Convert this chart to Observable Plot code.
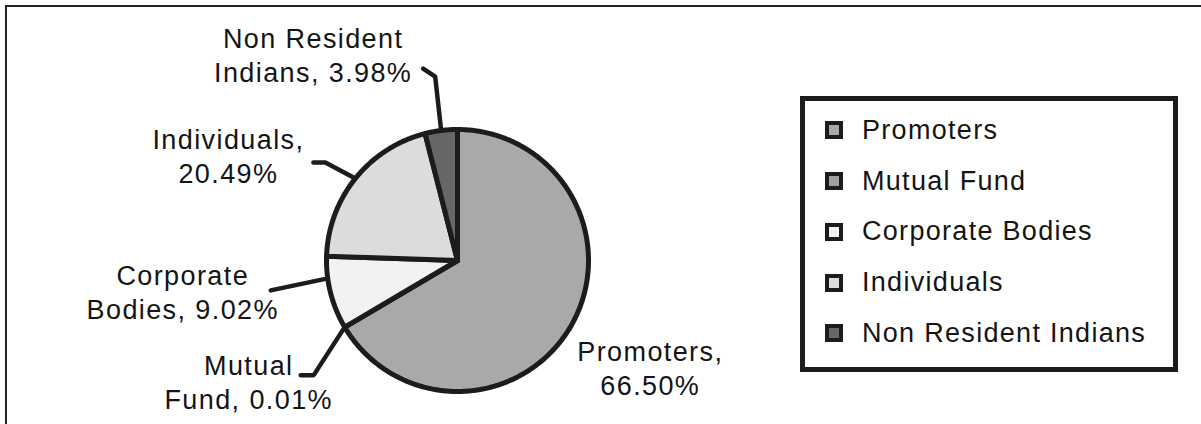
<!DOCTYPE html>
<html>
<head>
<meta charset="utf-8">
<script src="https://cdn.jsdelivr.net/npm/d3@7"></script>
<script src="https://cdn.jsdelivr.net/npm/@observablehq/plot@0.6"></script>
<style>
  html, body { margin: 0; padding: 0; background: #fff; }
  #wrap { position: relative; width: 1201px; height: 424px; overflow: hidden; background: #fff;
          font-family: "Liberation Sans", Arial, sans-serif; color: #141414; }
  #chart { position: absolute; left: 0; top: 0; }
  #frame { position: absolute; left: 5px; top: 5px; right: -10px; bottom: -10px;
           border-left: 2px solid #222; border-top: 2px solid #222; pointer-events: none; }
  #legend { position: absolute; left: 800px; top: 96px; width: 378px; height: 276px;
            box-sizing: border-box; border: 5px solid #1c1c1c; background: #fff;
            padding-top: 4px; padding-left: 20px; }
  .row { display: flex; align-items: center; height: 50.75px; font-size: 27px; letter-spacing: 1.3px; }
  .sw { width: 18px; height: 18px; box-sizing: border-box; border: 4px solid #1c1c1c; margin-right: 19px; flex: none; }
</style>
</head>
<body>
<div id="wrap">
  <div id="chart"></div>
  <div id="legend"></div>
  <div id="frame"></div>
</div>
<script>
// ---- data ----
const categories = ["Promoters", "Mutual Fund", "Corporate Bodies", "Individuals", "Non Resident Indians"];
const shares = [66.50, 0.01, 9.02, 20.49, 3.98];
const colors = ["#a9a9a9", "#a0a0a0", "#f2f2f2", "#dcdcdc", "#676767"];
const labelHead = ["Promoters,", "Mutual", "Corporate", "Individuals,", "Non Resident"];
const labelTail = ["", "Fund, ", "Bodies, ", "", "Indians, "];

// ---- layout (not data) ----
const W = 1201, H = 424;
const cx = 457, cy = 260, R = 131;
const anchorFrac = [0.5, 0.5, 0.7, 0.5, 0.5];
const labelOffset = [[79, 41.5], [-96, 54], [-145, 13], [-127, -23], [-128, -76]];
const leaderOffsets = [null, [[-44, 48], [-31, 48]], [[-57, 12]], [[-42, -16], [-30, -16]], [[-18, -62], [-6, -54]]];

const total = d3.sum(shares);
const pt = (deg, r) => {
  const a = deg * Math.PI / 180;
  return {x: cx + r * Math.sin(a), y: cy - r * Math.cos(a)};
};

let acc = 0;
const slices = categories.map((name, i) => {
  const a0 = acc / total * 360;
  acc += shares[i];
  const a1 = acc / total * 360;
  return {name, i, a0, a1, value: shares[i]};
});

const marks = [];
// slices
for (const s of slices) {
  const n = Math.max(2, Math.ceil((s.a1 - s.a0) / 0.5));
  const pts = [{x: cx, y: cy}];
  for (let k = 0; k <= n; k++) pts.push(pt(s.a0 + (s.a1 - s.a0) * k / n, R));
  pts.push({x: cx, y: cy});
  marks.push(Plot.line(pts, {x: "x", y: "y", fill: colors[s.i], stroke: "#1c1c1c", strokeWidth: 5, strokeLinejoin: "round"}));
}
// leaders and labels
const labels = [];
const leaders = [];
for (const s of slices) {
  const anc = pt(s.a0 + (s.a1 - s.a0) * anchorFrac[s.i], R);
  const off = labelOffset[s.i];
  labels.push({x: anc.x + off[0], y: anc.y + off[1],
    text: labelHead[s.i] + "\n" + labelTail[s.i] + s.value.toFixed(2) + "%"});
  const lo = leaderOffsets[s.i];
  if (lo) {
    for (const o of lo) leaders.push({k: s.name, x: anc.x + o[0], y: anc.y + o[1]});
    leaders.push({k: s.name, x: anc.x, y: anc.y});
  }
}
marks.push(Plot.line(leaders, {x: "x", y: "y", z: "k", stroke: "#1c1c1c", strokeWidth: 4.5, strokeLinejoin: "miter"}));
marks.push(Plot.text(labels, {x: "x", y: "y", text: "text", fontSize: 27, lineHeight: 1.26, fill: "#141414", textAnchor: "middle", lineAnchor: "middle"}));

const chart = Plot.plot({
  width: W, height: H,
  margin: 0,
  x: {domain: [0, W], range: [0, W], axis: null},
  y: {domain: [0, H], range: [0, H], axis: null},
  style: {background: "transparent", fontFamily: "'Liberation Sans', Arial, sans-serif", letterSpacing: "1.4px"},
  marks
});
document.getElementById("chart").appendChild(chart);

// legend
const legend = document.getElementById("legend");
categories.forEach((c, i) => {
  const row = document.createElement("div");
  row.className = "row";
  const sw = document.createElement("span");
  sw.className = "sw";
  sw.style.background = colors[i];
  const t = document.createElement("span");
  t.textContent = c;
  row.appendChild(sw); row.appendChild(t);
  legend.appendChild(row);
});
</script>
</body>
</html>
